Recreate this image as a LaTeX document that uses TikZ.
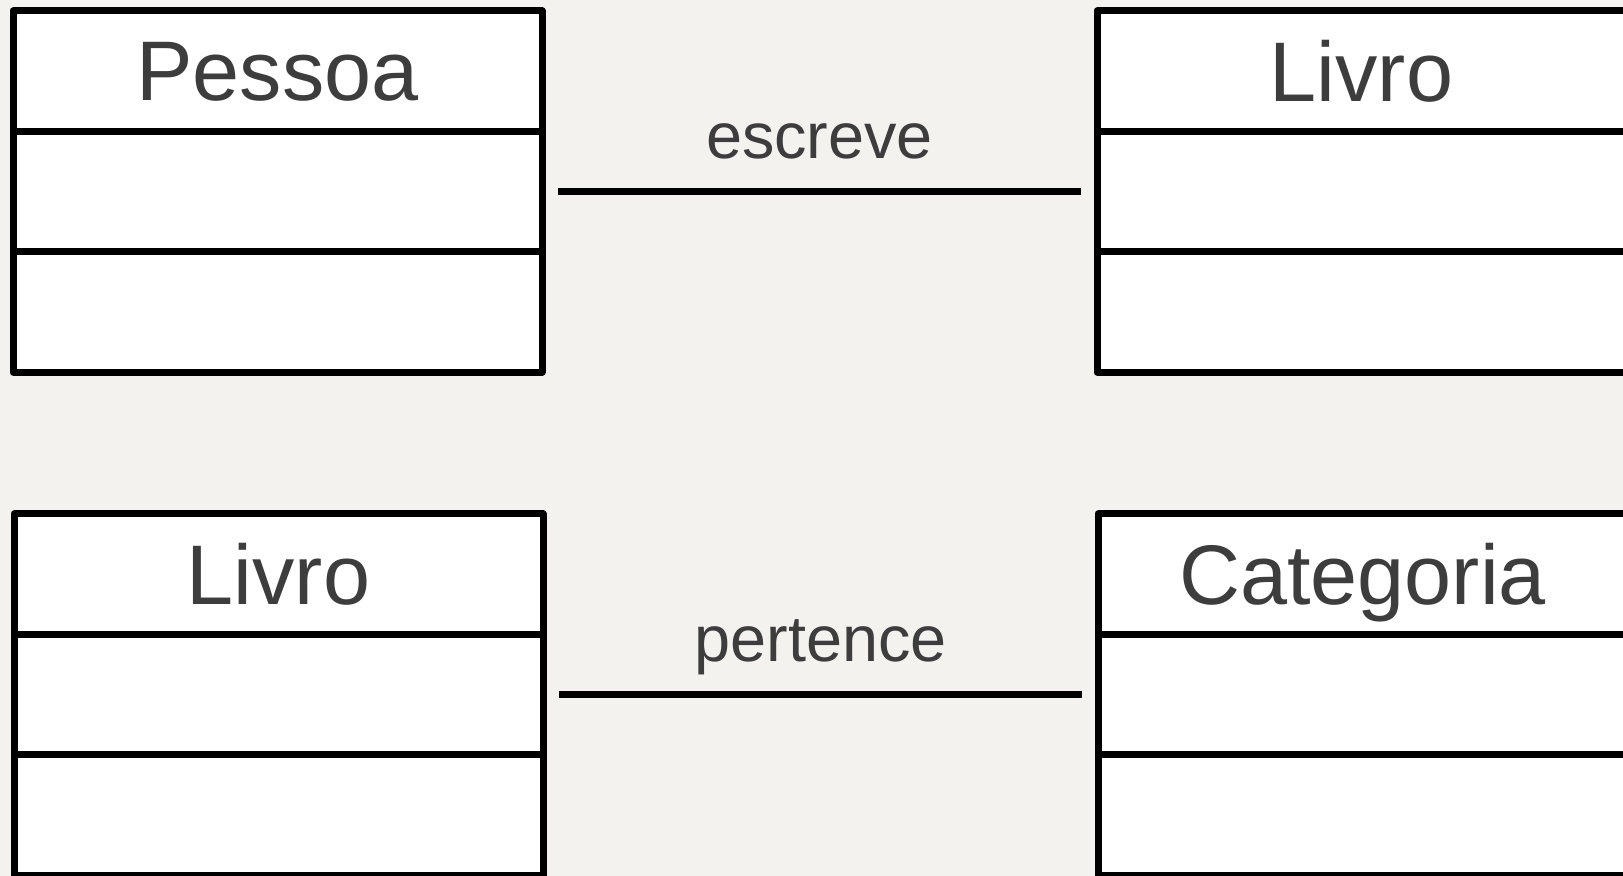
\documentclass[tikz,border=0pt]{standalone}
\usepackage{fontspec}
\setmainfont{Liberation Sans}
\usepackage{xcolor}
\usetikzlibrary{positioning}

\definecolor{paper}{HTML}{F3F2EF}
\definecolor{ink}{HTML}{3D3D3D}

\tikzset{
  part/.style={draw=black, fill=white, line width=3.5pt, line join=round, outer sep=0pt,
    minimum width=264.5pt, minimum height=60.2pt, inner sep=0pt},
  title/.style={part, text=ink, font=\fontsize{42.3}{48}\selectfont, text depth=0pt},
  assoc/.style={line width=3.4pt, shorten <=8pt, shorten >=8pt},
  rel/.style={text=ink, font=\fontsize{32.4}{38}\selectfont, inner sep=0pt, text depth=0pt}
}

\begin{document}
\begin{tikzpicture}[x=0.5pt, y=-0.5pt]
    \fill[paper] (0,0) rectangle (1623,876);
    \useasboundingbox (0,0) rectangle (1623,876);

    % escreve
    \node[title, anchor=north west] (pessoa) at (13,11) {Pessoa};
    \node[part, below=0pt of pessoa] (pessoaAttr) {};
    \node[part, below=0pt of pessoaAttr] (pessoaOps) {};

    \node[title, anchor=north west] (livroA) at (1097,11) {Livro};
    \node[part, below=0pt of livroA] (livroAAttr) {};
    \node[part, below=0pt of livroAAttr] (livroAOps) {};

    \draw[assoc] (pessoaAttr.east) -- node[rel, above=15pt] {escreve} (livroAAttr.west);

    % pertence
    \node[title, anchor=north west] (livroB) at (14,514) {Livro};
    \node[part, below=0pt of livroB] (livroBAttr) {};
    \node[part, below=0pt of livroBAttr] (livroBOps) {};

    \node[title, anchor=north west] (categoria) at (1098,514) {Categoria};
    \node[part, below=0pt of categoria] (categoriaAttr) {};
    \node[part, below=0pt of categoriaAttr] (categoriaOps) {};

    \draw[assoc] (livroBAttr.east) -- node[rel, above=15pt] {pertence} (categoriaAttr.west);
\end{tikzpicture}
\end{document}
